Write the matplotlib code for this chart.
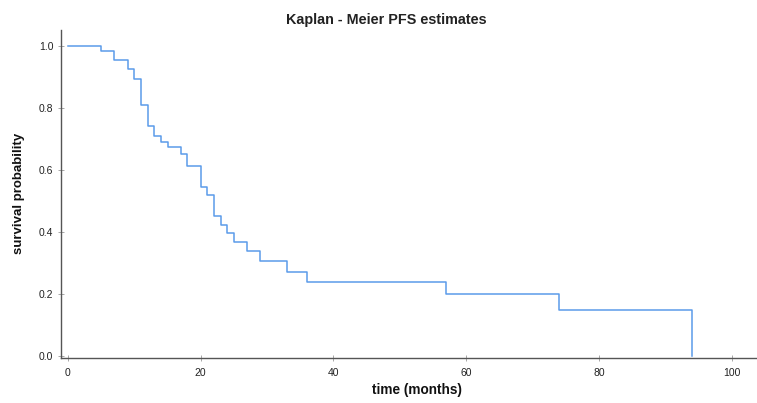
import matplotlib
matplotlib.use('Agg')
import matplotlib.pyplot as plt

plt.rcParams['font.family'] = ['Liberation Sans', 'DejaVu Sans']

# Kaplan-Meier step points (time in months, survival after the drop)
times = [0, 5, 7, 9, 10, 11, 12, 13, 14, 15, 17, 18, 20, 21, 22, 23, 24, 25,
         27, 29, 33, 36, 57, 74, 94]
surv = [1.0, 0.985, 0.955, 0.925, 0.894, 0.810, 0.743, 0.709, 0.690, 0.673,
        0.653, 0.613, 0.544, 0.520, 0.451, 0.424, 0.397, 0.369, 0.340, 0.305,
        0.271, 0.238, 0.199, 0.148, 0.0]
xticks = [0, 20, 40, 60, 80, 100]
yticks = [0.0, 0.2, 0.4, 0.6, 0.8, 1.0]

fig = plt.figure(figsize=(7.57, 4.03), dpi=100)
W, H = 757, 403
ax = fig.add_axes([61 / W, 1 - 358 / H, (757 - 61) / W, (358 - 30) / H])

ax.step(times, surv, where='post', color='#5B9BEA', linewidth=1.1)

ax.set_xlim(-1.05, 103.8)
ax.set_ylim(-0.007, 1.052)
ax.set_xticks(xticks)
ax.set_xticklabels([str(t) for t in xticks])
ax.set_yticks(yticks)
ax.set_yticklabels([f'{t:.1f}' for t in yticks])

for s in ['top', 'right']:
    ax.spines[s].set_visible(False)
for s in ['left', 'bottom']:
    ax.spines[s].set_color('#555555')
    ax.spines[s].set_linewidth(1.0)
ax.tick_params(direction='inout', length=5, width=0.6, color='#999999',
               labelsize=7.5, labelcolor='#222222', pad=3)
ax.tick_params(axis='x', pad=5)

fig.text(386 / W, 1 - 20 / H, 'Kaplan - Meier PFS estimates', ha='center',
         va='center', fontsize=10.4, fontweight='bold', color='#222222')
fig.text(417 / W, 1 - 390 / H, 'time (months)', ha='center', va='center',
         fontsize=9.8, fontweight='bold', color='#111111')
fig.text(19 / W, 1 - 193 / H, 'survival probability', ha='center', va='center',
         rotation=90, fontsize=9.5, fontweight='bold', color='#111111')

plt.savefig('out.png', dpi=100, facecolor='white')
